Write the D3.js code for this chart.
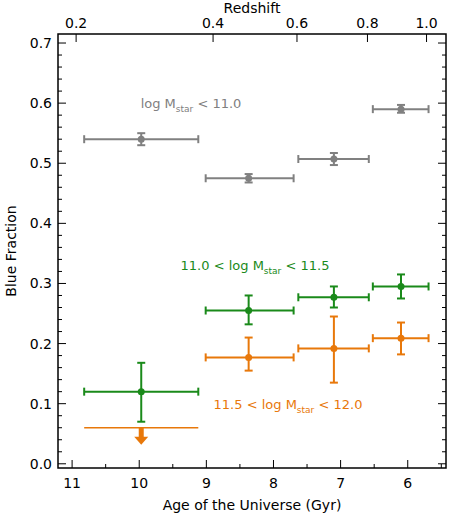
<!DOCTYPE html><html><head><script src="https://cdn.jsdelivr.net/npm/d3@7"></script>
<style>body{margin:0;background:#fff}text{font-family:"DejaVu Sans",sans-serif}</style></head><body>
<script>
const ageTicks=[11,10,9,8,7,6];
const yTicks=[0,0.1,0.2,0.3,0.4,0.5,0.6,0.7];
const zLabels=["0.2","0.4","0.6","0.8","1.0"];
const zAges=[10.94,8.9,7.65,6.6,5.72];
// [age, lo age, hi age, frac, err lo, err hi]
const gray=[[9.97,10.82,9.12,0.54,0.53,0.55],[8.37,9.01,7.7,0.475,0.468,0.482],[7.1,7.63,6.58,0.507,0.497,0.517],[6.1,6.52,5.69,0.59,0.584,0.597]];
const green=[[9.97,10.82,9.12,0.12,0.07,0.168],[8.37,9.01,7.7,0.255,0.232,0.28],[7.1,7.63,6.58,0.277,0.26,0.295],[6.1,6.52,5.69,0.295,0.275,0.315]];
const orange=[[8.37,9.01,7.7,0.177,0.155,0.21],[7.1,7.63,6.58,0.192,0.135,0.245],[6.1,6.52,5.69,0.209,0.182,0.235]];
const orangeLimit=[9.97,10.82,9.12,0.06];
const W=458,H=518,m={l:58,r:12,t:34,b:50};
const svg=d3.select("body").append("svg").attr("width",W).attr("height",H);
const x=d3.scaleLinear().domain([11.21,5.43]).range([m.l,W-m.r]);
const y=d3.scaleLinear().domain([-0.007,0.715]).range([H-m.b,m.t]);
const g=svg.append("g");
g.append("rect").attr("x",m.l).attr("y",m.t).attr("width",W-m.l-m.r).attr("height",H-m.t-m.b).attr("fill","none").attr("stroke","#000").attr("stroke-width",1.5);
const minorX=d3.range(5.5,11.01,0.5);
minorX.forEach(a=>{const L=ageTicks.includes(a)?8:4;g.append("line").attr("x1",x(a)).attr("x2",x(a)).attr("y1",H-m.b).attr("y2",H-m.b-L).attr("stroke","#000");});
ageTicks.forEach(a=>g.append("text").attr("x",x(a)).attr("y",H-m.b+20).attr("text-anchor","middle").attr("font-size",14).text(a));
d3.range(0,0.701,0.02).forEach(v=>{const maj=Math.abs(v*10-Math.round(v*10))<1e-6;const L=maj?8:4;
 g.append("line").attr("x1",m.l).attr("x2",m.l+L).attr("y1",y(v)).attr("y2",y(v)).attr("stroke","#000");
 g.append("line").attr("x1",W-m.r).attr("x2",W-m.r-L).attr("y1",y(v)).attr("y2",y(v)).attr("stroke","#000");});
yTicks.forEach(v=>g.append("text").attr("x",m.l-6).attr("y",y(v)+5).attr("text-anchor","end").attr("font-size",14).text(v.toFixed(1)));
zAges.forEach((a,i)=>{g.append("line").attr("x1",x(a)).attr("x2",x(a)).attr("y1",m.t).attr("y2",m.t+8).attr("stroke","#000");
 g.append("text").attr("x",x(a)).attr("y",m.t-6).attr("text-anchor","middle").attr("font-size",14).text(zLabels[i]);});
g.append("text").attr("x",(m.l+W-m.r)/2).attr("y",13).attr("text-anchor","middle").attr("font-size",14).text("Redshift");
g.append("text").attr("x",(m.l+W-m.r)/2).attr("y",H-8).attr("text-anchor","middle").attr("font-size",14).text("Age of the Universe (Gyr)");
g.append("text").attr("transform",`translate(16,${(m.t+H-m.b)/2}) rotate(-90)`).attr("text-anchor","middle").attr("font-size",14).text("Blue Fraction");
function series(d,c){d.forEach(p=>{
 g.append("line").attr("x1",x(p[1])).attr("x2",x(p[2])).attr("y1",y(p[3])).attr("y2",y(p[3])).attr("stroke",c).attr("stroke-width",2);
 [p[1],p[2]].forEach(a=>g.append("line").attr("x1",x(a)).attr("x2",x(a)).attr("y1",y(p[3])-4).attr("y2",y(p[3])+4).attr("stroke",c).attr("stroke-width",2));
 g.append("line").attr("x1",x(p[0])).attr("x2",x(p[0])).attr("y1",y(p[4])).attr("y2",y(p[5])).attr("stroke",c).attr("stroke-width",2);
 [p[4],p[5]].forEach(v=>g.append("line").attr("x1",x(p[0])-4).attr("x2",x(p[0])+4).attr("y1",y(v)).attr("y2",y(v)).attr("stroke",c).attr("stroke-width",2));
 g.append("circle").attr("cx",x(p[0])).attr("cy",y(p[3])).attr("r",3.5).attr("fill",c);});}
series(gray,"#808080");series(green,"#1a8a1a");series(orange,"#e8780a");
const o=orangeLimit,oc="#e8780a";
g.append("line").attr("x1",x(o[1])).attr("x2",x(o[2])).attr("y1",y(o[3])).attr("y2",y(o[3])).attr("stroke",oc).attr("stroke-width",1.5);
g.append("line").attr("x1",x(o[0])).attr("x2",x(o[0])).attr("y1",y(o[3])).attr("y2",y(o[3])+10).attr("stroke",oc).attr("stroke-width",5);
g.append("path").attr("d",`M${x(o[0])-7},${y(o[3])+9}L${x(o[0])+7},${y(o[3])+9}L${x(o[0])},${y(o[3])+17}Z`).attr("fill",oc);
function label(xp,yp,c,pre,post){const t=g.append("text").attr("x",xp).attr("y",yp).attr("fill",c).attr("font-size",13).attr("text-anchor","middle");
 t.append("tspan").text(pre+"log M");t.append("tspan").attr("font-size",9).attr("dy",4).text("star");t.append("tspan").attr("dy",-4).text(post);}
label(191,108,"#808080",""," < 11.0");
label(255,270,"#1a8a1a","11.0 < "," < 11.5");
label(288,409,"#e8780a","11.5 < "," < 12.0");
</script></body></html>
